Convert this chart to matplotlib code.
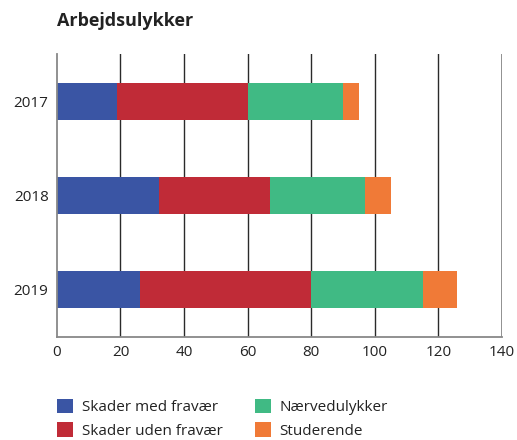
import numpy as np
import matplotlib.pyplot as plt
from matplotlib.patches import Patch

plt.rcParams['font.family'] = ['Open Sans', 'DejaVu Sans']

# Data
years = ['2017', '2018', '2019']
skader_med = [19, 32, 26]
skader_uden = [41, 35, 54]
naervedulykker = [30, 30, 35]
studerende = [5, 8, 11]

series = [skader_med, skader_uden, naervedulykker, studerende]
labels = ['Skader med fravær', 'Skader uden fravær', 'Nærvedulykker', 'Studerende']
colors = ['#3A55A4', '#C02B37', '#40BA84', '#F07A37']

fig = plt.figure(figsize=(5.17, 4.4), dpi=100)
ax = fig.add_axes([0.110, 0.234, 0.861, 0.643])

y = np.arange(len(years))
left = np.zeros(len(years))
for vals, col in zip(series, colors):
    ax.barh(y, vals, left=left, height=0.39, color=col, zorder=2)
    left += np.array(vals)

ax.set_xlim(0, 140)
ax.set_ylim(2.5, -0.5)
ax.set_xticks(range(0, 141, 20))
ax.set_yticks(y)
ax.set_yticklabels(years)
ax.tick_params(axis='both', length=0, labelsize=11, colors='#222222')
ax.tick_params(axis='x', pad=6)
ax.tick_params(axis='y', pad=6)

for v in range(20, 140, 20):
    ax.axvline(v, color='#2a2a2a', lw=1.0, zorder=1)

for s in ['top', 'right']:
    ax.spines[s].set_visible(False)
ax.axvline(140, color='#888888', lw=1.3, zorder=1)
ax.spines['left'].set_color('#888888')
ax.spines['bottom'].set_color('#888888')
ax.spines['left'].set_linewidth(1.3)
ax.spines['bottom'].set_linewidth(1.3)

fig.text(0.110, 0.952, 'Arbejdsulykker', fontsize=13, fontweight='bold',
         color='#222222', ha='left', va='center')

handles = [Patch(facecolor=c, edgecolor='none') for c in colors]
fig.legend(handles, labels, loc='upper left', bbox_to_anchor=(0.084, 0.125),
           ncol=2, frameon=False, fontsize=11, handlelength=1.05, handleheight=1.1,
           handletextpad=0.55, columnspacing=2.1, labelspacing=0.45,
           labelcolor='#222222')

fig.savefig('out.png', dpi=100)
